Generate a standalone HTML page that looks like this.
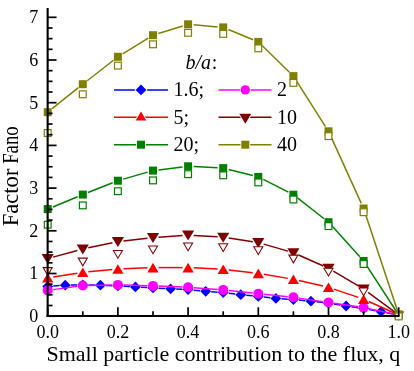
<!DOCTYPE html>
<html><head><meta charset="utf-8"><title>Factor Fano</title>
<style>html,body{margin:0;padding:0;background:#fff;}svg{display:block;}text{font-family:"Liberation Serif",serif;filter:grayscale(1);}</style>
</head><body>
<svg width="414" height="371" viewBox="0 0 414 371">
<rect width="414" height="371" fill="#fff"/>
<line x1="53.28" y1="286.09" x2="59.67" y2="285.61" stroke="#0000ff" stroke-width="1.5"/>
<line x1="70.85" y1="285.10" x2="77.20" y2="285.00" stroke="#0000ff" stroke-width="1.5"/>
<line x1="88.40" y1="285.00" x2="94.75" y2="285.10" stroke="#0000ff" stroke-width="1.5"/>
<line x1="105.95" y1="285.42" x2="112.30" y2="285.68" stroke="#0000ff" stroke-width="1.5"/>
<line x1="123.49" y1="286.22" x2="129.86" y2="286.58" stroke="#0000ff" stroke-width="1.5"/>
<line x1="141.04" y1="287.22" x2="147.41" y2="287.58" stroke="#0000ff" stroke-width="1.5"/>
<line x1="158.59" y1="288.19" x2="164.96" y2="288.51" stroke="#0000ff" stroke-width="1.5"/>
<line x1="176.14" y1="289.06" x2="182.51" y2="289.34" stroke="#0000ff" stroke-width="1.5"/>
<line x1="193.67" y1="290.14" x2="200.08" y2="290.76" stroke="#0000ff" stroke-width="1.5"/>
<line x1="211.23" y1="291.71" x2="217.62" y2="292.19" stroke="#0000ff" stroke-width="1.5"/>
<line x1="228.76" y1="293.27" x2="235.19" y2="294.03" stroke="#0000ff" stroke-width="1.5"/>
<line x1="246.32" y1="295.24" x2="252.73" y2="295.86" stroke="#0000ff" stroke-width="1.5"/>
<line x1="263.86" y1="297.03" x2="270.29" y2="297.77" stroke="#0000ff" stroke-width="1.5"/>
<line x1="281.44" y1="298.75" x2="287.81" y2="299.15" stroke="#0000ff" stroke-width="1.5"/>
<line x1="298.97" y1="300.04" x2="305.38" y2="300.66" stroke="#0000ff" stroke-width="1.5"/>
<line x1="316.51" y1="301.83" x2="322.94" y2="302.57" stroke="#0000ff" stroke-width="1.5"/>
<line x1="334.03" y1="304.08" x2="340.52" y2="305.12" stroke="#0000ff" stroke-width="1.5"/>
<line x1="351.59" y1="306.82" x2="358.06" y2="307.78" stroke="#0000ff" stroke-width="1.5"/>
<line x1="369.11" y1="309.57" x2="375.64" y2="310.73" stroke="#0000ff" stroke-width="1.5"/>
<line x1="386.65" y1="312.73" x2="395.75" y2="314.45" stroke="#0000ff" stroke-width="1.5"/>
<polygon points="42.3,286.5 47.7,281.1 53.1,286.5 47.7,291.9" fill="#0000ff"/>
<polygon points="59.9,285.2 65.2,279.8 70.7,285.2 65.2,290.6" fill="#0000ff"/>
<polygon points="77.4,284.9 82.8,279.5 88.2,284.9 82.8,290.3" fill="#0000ff"/>
<polygon points="95.0,285.2 100.4,279.8 105.8,285.2 100.4,290.6" fill="#0000ff"/>
<polygon points="112.5,285.9 117.9,280.5 123.3,285.9 117.9,291.3" fill="#0000ff"/>
<polygon points="130.0,286.9 135.4,281.5 140.8,286.9 135.4,292.3" fill="#0000ff"/>
<polygon points="147.6,287.9 153.0,282.5 158.4,287.9 153.0,293.3" fill="#0000ff"/>
<polygon points="165.2,288.8 170.6,283.4 176.0,288.8 170.6,294.2" fill="#0000ff"/>
<polygon points="182.7,289.6 188.1,284.2 193.5,289.6 188.1,295.0" fill="#0000ff"/>
<polygon points="200.3,291.3 205.7,285.9 211.1,291.3 205.7,296.7" fill="#0000ff"/>
<polygon points="217.8,292.6 223.2,287.2 228.6,292.6 223.2,298.0" fill="#0000ff"/>
<polygon points="235.3,294.7 240.8,289.3 246.2,294.7 240.8,300.1" fill="#0000ff"/>
<polygon points="252.9,296.4 258.3,291.0 263.7,296.4 258.3,301.8" fill="#0000ff"/>
<polygon points="270.5,298.4 275.9,293.0 281.2,298.4 275.9,303.8" fill="#0000ff"/>
<polygon points="288.0,299.5 293.4,294.1 298.8,299.5 293.4,304.9" fill="#0000ff"/>
<polygon points="305.6,301.2 310.9,295.8 316.3,301.2 310.9,306.6" fill="#0000ff"/>
<polygon points="323.1,303.2 328.5,297.8 333.9,303.2 328.5,308.6" fill="#0000ff"/>
<polygon points="340.7,306.0 346.1,300.6 351.4,306.0 346.1,311.4" fill="#0000ff"/>
<polygon points="358.2,308.6 363.6,303.2 369.0,308.6 363.6,314.0" fill="#0000ff"/>
<polygon points="375.8,311.7 381.1,306.3 386.5,311.7 381.1,317.1" fill="#0000ff"/>
<line x1="53.25" y1="289.63" x2="77.25" y2="286.27" stroke="#ff00ff" stroke-width="1.5"/>
<line x1="88.40" y1="285.40" x2="112.30" y2="285.00" stroke="#ff00ff" stroke-width="1.5"/>
<line x1="123.50" y1="285.06" x2="147.40" y2="285.74" stroke="#ff00ff" stroke-width="1.5"/>
<line x1="158.60" y1="286.11" x2="182.50" y2="286.99" stroke="#ff00ff" stroke-width="1.5"/>
<line x1="193.68" y1="287.63" x2="217.62" y2="289.47" stroke="#ff00ff" stroke-width="1.5"/>
<line x1="228.77" y1="290.50" x2="252.73" y2="293.10" stroke="#ff00ff" stroke-width="1.5"/>
<line x1="263.87" y1="294.27" x2="287.83" y2="296.73" stroke="#ff00ff" stroke-width="1.5"/>
<line x1="298.94" y1="298.12" x2="322.96" y2="301.68" stroke="#ff00ff" stroke-width="1.5"/>
<line x1="334.04" y1="303.31" x2="358.06" y2="306.79" stroke="#ff00ff" stroke-width="1.5"/>
<line x1="369.08" y1="308.76" x2="395.76" y2="314.38" stroke="#ff00ff" stroke-width="1.5"/>
<circle cx="47.7" cy="290.4" r="5.0" fill="#ff00ff"/>
<circle cx="82.8" cy="285.5" r="5.0" fill="#ff00ff"/>
<circle cx="117.9" cy="284.9" r="5.0" fill="#ff00ff"/>
<circle cx="153.0" cy="285.9" r="5.0" fill="#ff00ff"/>
<circle cx="188.1" cy="287.2" r="5.0" fill="#ff00ff"/>
<circle cx="223.2" cy="289.9" r="5.0" fill="#ff00ff"/>
<circle cx="258.3" cy="293.7" r="5.0" fill="#ff00ff"/>
<circle cx="293.4" cy="297.3" r="5.0" fill="#ff00ff"/>
<circle cx="328.5" cy="302.5" r="5.0" fill="#ff00ff"/>
<circle cx="363.6" cy="307.6" r="5.0" fill="#ff00ff"/>
<line x1="53.23" y1="276.93" x2="77.27" y2="273.17" stroke="#ff0000" stroke-width="1.5"/>
<line x1="88.38" y1="271.78" x2="112.32" y2="269.52" stroke="#ff0000" stroke-width="1.5"/>
<line x1="123.50" y1="268.78" x2="147.40" y2="267.82" stroke="#ff0000" stroke-width="1.5"/>
<line x1="158.60" y1="267.60" x2="182.50" y2="267.60" stroke="#ff0000" stroke-width="1.5"/>
<line x1="193.69" y1="267.87" x2="217.61" y2="269.03" stroke="#ff0000" stroke-width="1.5"/>
<line x1="228.76" y1="269.95" x2="252.74" y2="272.75" stroke="#ff0000" stroke-width="1.5"/>
<line x1="263.82" y1="274.33" x2="287.88" y2="278.37" stroke="#ff0000" stroke-width="1.5"/>
<line x1="298.86" y1="280.54" x2="323.04" y2="286.06" stroke="#ff0000" stroke-width="1.5"/>
<line x1="333.80" y1="289.10" x2="358.30" y2="297.40" stroke="#ff0000" stroke-width="1.5"/>
<line x1="368.71" y1="301.50" x2="395.96" y2="313.77" stroke="#ff0000" stroke-width="1.5"/>
<polygon points="42.1,282.6 53.3,282.6 47.7,273.0" fill="#ff0000"/>
<polygon points="77.2,277.1 88.4,277.1 82.8,267.5" fill="#ff0000"/>
<polygon points="112.3,273.8 123.5,273.8 117.9,264.2" fill="#ff0000"/>
<polygon points="147.4,272.4 158.6,272.4 153.0,262.8" fill="#ff0000"/>
<polygon points="182.5,272.4 193.7,272.4 188.1,262.8" fill="#ff0000"/>
<polygon points="217.6,274.1 228.8,274.1 223.2,264.5" fill="#ff0000"/>
<polygon points="252.7,278.2 263.9,278.2 258.3,268.6" fill="#ff0000"/>
<polygon points="287.8,284.1 299.0,284.1 293.4,274.5" fill="#ff0000"/>
<polygon points="322.9,292.1 334.1,292.1 328.5,282.5" fill="#ff0000"/>
<polygon points="358.0,304.0 369.2,304.0 363.6,294.4" fill="#ff0000"/>
<line x1="53.10" y1="257.12" x2="77.40" y2="250.48" stroke="#800000" stroke-width="1.5"/>
<line x1="88.28" y1="247.84" x2="112.42" y2="242.76" stroke="#800000" stroke-width="1.5"/>
<line x1="123.46" y1="240.97" x2="147.44" y2="238.23" stroke="#800000" stroke-width="1.5"/>
<line x1="158.59" y1="237.20" x2="182.51" y2="235.50" stroke="#800000" stroke-width="1.5"/>
<line x1="193.69" y1="235.43" x2="217.61" y2="236.87" stroke="#800000" stroke-width="1.5"/>
<line x1="228.73" y1="238.05" x2="252.77" y2="241.75" stroke="#800000" stroke-width="1.5"/>
<line x1="263.68" y1="244.15" x2="288.02" y2="251.15" stroke="#800000" stroke-width="1.5"/>
<line x1="298.52" y1="254.97" x2="323.38" y2="266.03" stroke="#800000" stroke-width="1.5"/>
<line x1="333.32" y1="271.14" x2="358.78" y2="286.16" stroke="#800000" stroke-width="1.5"/>
<line x1="368.10" y1="292.33" x2="396.29" y2="313.21" stroke="#800000" stroke-width="1.5"/>
<polygon points="41.6,254.1 53.8,254.1 47.7,264.1" fill="#800000"/>
<polygon points="76.7,244.5 88.9,244.5 82.8,254.5" fill="#800000"/>
<polygon points="111.8,237.1 124.0,237.1 117.9,247.1" fill="#800000"/>
<polygon points="146.9,233.1 159.1,233.1 153.0,243.1" fill="#800000"/>
<polygon points="182.0,230.6 194.2,230.6 188.1,240.6" fill="#800000"/>
<polygon points="217.1,232.7 229.3,232.7 223.2,242.7" fill="#800000"/>
<polygon points="252.2,238.1 264.4,238.1 258.3,248.1" fill="#800000"/>
<polygon points="287.3,248.2 299.5,248.2 293.4,258.2" fill="#800000"/>
<polygon points="322.4,263.8 334.6,263.8 328.5,273.8" fill="#800000"/>
<polygon points="357.5,284.5 369.7,284.5 363.6,294.5" fill="#800000"/>
<polygon points="42.4,267.0 53.0,267.0 47.7,276.0" fill="#fff" stroke="#800000" stroke-width="1.2" transform="translate(47.7,271.5) scale(0.86) translate(-47.7,-271.5)"/>
<polygon points="77.5,257.5 88.1,257.5 82.8,266.5" fill="#fff" stroke="#800000" stroke-width="1.2" transform="translate(82.8,262.0) scale(0.86) translate(-82.8,-262.0)"/>
<polygon points="112.6,249.9 123.2,249.9 117.9,258.9" fill="#fff" stroke="#800000" stroke-width="1.2" transform="translate(117.9,254.4) scale(0.86) translate(-117.9,-254.4)"/>
<polygon points="147.7,245.3 158.3,245.3 153.0,254.3" fill="#fff" stroke="#800000" stroke-width="1.2" transform="translate(153.0,249.8) scale(0.86) translate(-153.0,-249.8)"/>
<polygon points="182.8,242.3 193.4,242.3 188.1,251.3" fill="#fff" stroke="#800000" stroke-width="1.2" transform="translate(188.1,246.8) scale(0.86) translate(-188.1,-246.8)"/>
<polygon points="217.9,243.1 228.5,243.1 223.2,252.1" fill="#fff" stroke="#800000" stroke-width="1.2" transform="translate(223.2,247.6) scale(0.86) translate(-223.2,-247.6)"/>
<polygon points="253.0,246.1 263.6,246.1 258.3,255.1" fill="#fff" stroke="#800000" stroke-width="1.2" transform="translate(258.3,250.6) scale(0.86) translate(-258.3,-250.6)"/>
<polygon points="288.1,254.5 298.7,254.5 293.4,263.5" fill="#fff" stroke="#800000" stroke-width="1.2" transform="translate(293.4,259.0) scale(0.86) translate(-293.4,-259.0)"/>
<polygon points="323.2,267.6 333.8,267.6 328.5,276.6" fill="#fff" stroke="#800000" stroke-width="1.2" transform="translate(328.5,272.1) scale(0.86) translate(-328.5,-272.1)"/>
<polygon points="358.3,287.3 368.9,287.3 363.6,296.3" fill="#fff" stroke="#800000" stroke-width="1.2" transform="translate(363.6,291.8) scale(0.86) translate(-363.6,-291.8)"/>
<polygon points="393.4,311.3 404.0,311.3 398.7,320.3" fill="#fff" stroke="#800000" stroke-width="1.2" transform="translate(398.7,315.8) scale(0.86) translate(-398.7,-315.8)"/>
<line x1="52.88" y1="206.96" x2="77.62" y2="196.74" stroke="#008000" stroke-width="1.5"/>
<line x1="88.01" y1="192.54" x2="112.69" y2="182.76" stroke="#008000" stroke-width="1.5"/>
<line x1="123.28" y1="179.15" x2="147.62" y2="172.15" stroke="#008000" stroke-width="1.5"/>
<line x1="158.56" y1="169.92" x2="182.54" y2="166.98" stroke="#008000" stroke-width="1.5"/>
<line x1="193.69" y1="166.59" x2="217.61" y2="167.81" stroke="#008000" stroke-width="1.5"/>
<line x1="228.63" y1="169.46" x2="252.87" y2="175.54" stroke="#008000" stroke-width="1.5"/>
<line x1="263.29" y1="179.43" x2="288.41" y2="192.17" stroke="#008000" stroke-width="1.5"/>
<line x1="297.81" y1="198.15" x2="324.09" y2="218.75" stroke="#008000" stroke-width="1.5"/>
<line x1="332.26" y1="226.35" x2="359.84" y2="256.85" stroke="#008000" stroke-width="1.5"/>
<line x1="366.65" y1="265.70" x2="397.07" y2="312.48" stroke="#008000" stroke-width="1.5"/>
<rect x="43.7" y="205.1" width="8.0" height="8.0" fill="#008000"/>
<rect x="78.8" y="190.6" width="8.0" height="8.0" fill="#008000"/>
<rect x="113.9" y="176.7" width="8.0" height="8.0" fill="#008000"/>
<rect x="149.0" y="166.6" width="8.0" height="8.0" fill="#008000"/>
<rect x="184.1" y="162.3" width="8.0" height="8.0" fill="#008000"/>
<rect x="219.2" y="164.1" width="8.0" height="8.0" fill="#008000"/>
<rect x="254.3" y="172.9" width="8.0" height="8.0" fill="#008000"/>
<rect x="289.4" y="190.7" width="8.0" height="8.0" fill="#008000"/>
<rect x="324.5" y="218.2" width="8.0" height="8.0" fill="#008000"/>
<rect x="359.6" y="257.0" width="8.0" height="8.0" fill="#008000"/>
<rect x="44.3" y="221.3" width="6.8" height="6.8" fill="#fff" stroke="#008000" stroke-width="1.2"/>
<rect x="79.4" y="202.0" width="6.8" height="6.8" fill="#fff" stroke="#008000" stroke-width="1.2"/>
<rect x="114.5" y="187.8" width="6.8" height="6.8" fill="#fff" stroke="#008000" stroke-width="1.2"/>
<rect x="149.6" y="177.0" width="6.8" height="6.8" fill="#fff" stroke="#008000" stroke-width="1.2"/>
<rect x="184.7" y="170.8" width="6.8" height="6.8" fill="#fff" stroke="#008000" stroke-width="1.2"/>
<rect x="219.8" y="171.9" width="6.8" height="6.8" fill="#fff" stroke="#008000" stroke-width="1.2"/>
<rect x="254.9" y="179.0" width="6.8" height="6.8" fill="#fff" stroke="#008000" stroke-width="1.2"/>
<rect x="290.0" y="196.1" width="6.8" height="6.8" fill="#fff" stroke="#008000" stroke-width="1.2"/>
<rect x="325.1" y="222.7" width="6.8" height="6.8" fill="#fff" stroke="#008000" stroke-width="1.2"/>
<rect x="360.2" y="260.6" width="6.8" height="6.8" fill="#fff" stroke="#008000" stroke-width="1.2"/>
<rect x="395.3" y="311.6" width="6.8" height="6.8" fill="#fff" stroke="#008000" stroke-width="1.2"/>
<line x1="52.08" y1="108.71" x2="78.42" y2="87.69" stroke="#808000" stroke-width="1.5"/>
<line x1="87.21" y1="80.75" x2="113.49" y2="60.25" stroke="#808000" stroke-width="1.5"/>
<line x1="122.67" y1="53.87" x2="148.23" y2="38.13" stroke="#808000" stroke-width="1.5"/>
<line x1="158.35" y1="33.54" x2="182.75" y2="25.96" stroke="#808000" stroke-width="1.5"/>
<line x1="193.68" y1="24.79" x2="217.62" y2="26.91" stroke="#808000" stroke-width="1.5"/>
<line x1="228.38" y1="29.54" x2="253.12" y2="39.76" stroke="#808000" stroke-width="1.5"/>
<line x1="262.31" y1="45.81" x2="289.39" y2="72.19" stroke="#808000" stroke-width="1.5"/>
<line x1="296.40" y1="80.83" x2="325.50" y2="126.57" stroke="#808000" stroke-width="1.5"/>
<line x1="330.82" y1="136.40" x2="361.28" y2="203.40" stroke="#808000" stroke-width="1.5"/>
<line x1="365.36" y1="213.82" x2="397.76" y2="311.45" stroke="#808000" stroke-width="1.5"/>
<rect x="43.7" y="108.2" width="8.0" height="8.0" fill="#808000"/>
<rect x="78.8" y="80.2" width="8.0" height="8.0" fill="#808000"/>
<rect x="113.9" y="52.8" width="8.0" height="8.0" fill="#808000"/>
<rect x="149.0" y="31.2" width="8.0" height="8.0" fill="#808000"/>
<rect x="184.1" y="20.3" width="8.0" height="8.0" fill="#808000"/>
<rect x="219.2" y="23.4" width="8.0" height="8.0" fill="#808000"/>
<rect x="254.3" y="37.9" width="8.0" height="8.0" fill="#808000"/>
<rect x="289.4" y="72.1" width="8.0" height="8.0" fill="#808000"/>
<rect x="324.5" y="127.3" width="8.0" height="8.0" fill="#808000"/>
<rect x="359.6" y="204.5" width="8.0" height="8.0" fill="#808000"/>
<rect x="394.7" y="310.3" width="8.0" height="8.0" fill="#808000"/>
<rect x="44.3" y="129.6" width="6.8" height="6.8" fill="#fff" stroke="#808000" stroke-width="1.2"/>
<rect x="79.4" y="90.9" width="6.8" height="6.8" fill="#fff" stroke="#808000" stroke-width="1.2"/>
<rect x="114.5" y="62.2" width="6.8" height="6.8" fill="#fff" stroke="#808000" stroke-width="1.2"/>
<rect x="149.6" y="40.9" width="6.8" height="6.8" fill="#fff" stroke="#808000" stroke-width="1.2"/>
<rect x="184.7" y="29.4" width="6.8" height="6.8" fill="#fff" stroke="#808000" stroke-width="1.2"/>
<rect x="219.8" y="30.5" width="6.8" height="6.8" fill="#fff" stroke="#808000" stroke-width="1.2"/>
<rect x="254.9" y="44.9" width="6.8" height="6.8" fill="#fff" stroke="#808000" stroke-width="1.2"/>
<rect x="290.0" y="79.5" width="6.8" height="6.8" fill="#fff" stroke="#808000" stroke-width="1.2"/>
<rect x="325.1" y="132.7" width="6.8" height="6.8" fill="#fff" stroke="#808000" stroke-width="1.2"/>
<rect x="360.2" y="208.8" width="6.8" height="6.8" fill="#fff" stroke="#808000" stroke-width="1.2"/>
<rect x="395.3" y="313.0" width="6.8" height="6.8" fill="#fff" stroke="#808000" stroke-width="1.2"/>
<g stroke="#000" fill="none">
<line x1="47.65" y1="8" x2="47.65" y2="317.0" stroke-width="2.1"/>
<line x1="46.6" y1="315.95" x2="399.5" y2="315.95" stroke-width="2.1"/>
<line x1="47.65" y1="316.20" x2="56.55" y2="316.20" stroke-width="1.7"/>
<line x1="47.65" y1="305.52" x2="52.55" y2="305.52" stroke-width="1.7"/>
<line x1="47.65" y1="294.85" x2="52.55" y2="294.85" stroke-width="1.7"/>
<line x1="47.65" y1="284.17" x2="52.55" y2="284.17" stroke-width="1.7"/>
<line x1="47.65" y1="273.50" x2="56.55" y2="273.50" stroke-width="1.7"/>
<line x1="47.65" y1="262.82" x2="52.55" y2="262.82" stroke-width="1.7"/>
<line x1="47.65" y1="252.15" x2="52.55" y2="252.15" stroke-width="1.7"/>
<line x1="47.65" y1="241.47" x2="52.55" y2="241.47" stroke-width="1.7"/>
<line x1="47.65" y1="230.80" x2="56.55" y2="230.80" stroke-width="1.7"/>
<line x1="47.65" y1="220.12" x2="52.55" y2="220.12" stroke-width="1.7"/>
<line x1="47.65" y1="209.45" x2="52.55" y2="209.45" stroke-width="1.7"/>
<line x1="47.65" y1="198.77" x2="52.55" y2="198.77" stroke-width="1.7"/>
<line x1="47.65" y1="188.10" x2="56.55" y2="188.10" stroke-width="1.7"/>
<line x1="47.65" y1="177.42" x2="52.55" y2="177.42" stroke-width="1.7"/>
<line x1="47.65" y1="166.75" x2="52.55" y2="166.75" stroke-width="1.7"/>
<line x1="47.65" y1="156.07" x2="52.55" y2="156.07" stroke-width="1.7"/>
<line x1="47.65" y1="145.40" x2="56.55" y2="145.40" stroke-width="1.7"/>
<line x1="47.65" y1="134.72" x2="52.55" y2="134.72" stroke-width="1.7"/>
<line x1="47.65" y1="124.05" x2="52.55" y2="124.05" stroke-width="1.7"/>
<line x1="47.65" y1="113.37" x2="52.55" y2="113.37" stroke-width="1.7"/>
<line x1="47.65" y1="102.70" x2="56.55" y2="102.70" stroke-width="1.7"/>
<line x1="47.65" y1="92.02" x2="52.55" y2="92.02" stroke-width="1.7"/>
<line x1="47.65" y1="81.35" x2="52.55" y2="81.35" stroke-width="1.7"/>
<line x1="47.65" y1="70.67" x2="52.55" y2="70.67" stroke-width="1.7"/>
<line x1="47.65" y1="60.00" x2="56.55" y2="60.00" stroke-width="1.7"/>
<line x1="47.65" y1="49.32" x2="52.55" y2="49.32" stroke-width="1.7"/>
<line x1="47.65" y1="38.65" x2="52.55" y2="38.65" stroke-width="1.7"/>
<line x1="47.65" y1="27.97" x2="52.55" y2="27.97" stroke-width="1.7"/>
<line x1="47.65" y1="17.30" x2="56.55" y2="17.30" stroke-width="1.7"/>
<line x1="47.70" y1="316.2" x2="47.70" y2="307.29999999999995" stroke-width="1.7"/>
<line x1="82.80" y1="316.2" x2="82.80" y2="311.29999999999995" stroke-width="1.7"/>
<line x1="117.90" y1="316.2" x2="117.90" y2="307.29999999999995" stroke-width="1.7"/>
<line x1="153.00" y1="316.2" x2="153.00" y2="311.29999999999995" stroke-width="1.7"/>
<line x1="188.10" y1="316.2" x2="188.10" y2="307.29999999999995" stroke-width="1.7"/>
<line x1="223.20" y1="316.2" x2="223.20" y2="311.29999999999995" stroke-width="1.7"/>
<line x1="258.30" y1="316.2" x2="258.30" y2="307.29999999999995" stroke-width="1.7"/>
<line x1="293.40" y1="316.2" x2="293.40" y2="311.29999999999995" stroke-width="1.7"/>
<line x1="328.50" y1="316.2" x2="328.50" y2="307.29999999999995" stroke-width="1.7"/>
<line x1="363.60" y1="316.2" x2="363.60" y2="311.29999999999995" stroke-width="1.7"/>
<line x1="398.70" y1="316.2" x2="398.70" y2="307.29999999999995" stroke-width="1.7"/>
</g>
<g font-family="Liberation Serif, serif" font-size="18" fill="#000">
<text x="38.3" y="322.0" text-anchor="end">0</text>
<text x="38.3" y="279.3" text-anchor="end">1</text>
<text x="38.3" y="236.6" text-anchor="end">2</text>
<text x="38.3" y="193.9" text-anchor="end">3</text>
<text x="38.3" y="151.2" text-anchor="end">4</text>
<text x="38.3" y="108.5" text-anchor="end">5</text>
<text x="38.3" y="65.8" text-anchor="end">6</text>
<text x="38.3" y="23.1" text-anchor="end">7</text>
<text x="47.7" y="338.2" text-anchor="middle">0.0</text>
<text x="117.9" y="338.2" text-anchor="middle">0.2</text>
<text x="188.1" y="338.2" text-anchor="middle">0.4</text>
<text x="258.3" y="338.2" text-anchor="middle">0.6</text>
<text x="328.5" y="338.2" text-anchor="middle">0.8</text>
<text x="398.7" y="338.2" text-anchor="middle">1.0</text>
</g>
<text x="46.5" y="360.6" font-family="Liberation Serif, serif" font-size="22" fill="#000">Small particle contribution to the flux, q</text>
<text transform="translate(17.9,226.2) rotate(-90)" font-family="Liberation Serif, serif" font-size="22.8" fill="#000" textLength="57.6" lengthAdjust="spacingAndGlyphs">Factor</text>
<text transform="translate(17.9,163.8) rotate(-90)" font-family="Liberation Serif, serif" font-size="22.8" fill="#000" textLength="37.5" lengthAdjust="spacingAndGlyphs">Fano</text>
<g font-family="Liberation Serif, serif" font-size="20" fill="#000">
<text x="185.5" y="69" font-style="italic">b/a</text>
<text x="211.8" y="69">:</text>
<line x1="114" y1="89.9" x2="168" y2="89.9" stroke="#0000ff" stroke-width="1.5"/>
<line x1="114" y1="117.3" x2="168" y2="117.3" stroke="#ff0000" stroke-width="1.5"/>
<line x1="114" y1="144.7" x2="168" y2="144.7" stroke="#008000" stroke-width="1.5"/>
<line x1="218.5" y1="89.9" x2="271.5" y2="89.9" stroke="#ff00ff" stroke-width="1.5"/>
<line x1="218.5" y1="117.3" x2="271.5" y2="117.3" stroke="#800000" stroke-width="1.5"/>
<line x1="218.5" y1="144.7" x2="271.5" y2="144.7" stroke="#808000" stroke-width="1.5"/>
<polygon points="135.6,89.9 141.0,84.5 146.4,89.9 141.0,95.3" fill="#0000ff" stroke="#fff" stroke-width="1.7" paint-order="stroke"/>
<polygon points="135.7,120.4 146.3,120.4 141.0,111.4" fill="#ff0000" stroke="#fff" stroke-width="1.7" paint-order="stroke"/>
<rect x="137.0" y="140.7" width="8.0" height="8.0" fill="#008000" stroke="#fff" stroke-width="1.7" paint-order="stroke"/>
<circle cx="245.3" cy="89.9" r="4.7" fill="#ff00ff" stroke="#fff" stroke-width="1.7" paint-order="stroke"/>
<polygon points="239.3,113.8 251.3,113.8 245.3,123.8" fill="#800000" stroke="#fff" stroke-width="1.7" paint-order="stroke"/>
<rect x="241.3" y="140.7" width="8.0" height="8.0" fill="#808000" stroke="#fff" stroke-width="1.7" paint-order="stroke"/>
<text x="173.6" y="96">1.6;</text>
<text x="173.6" y="123.5">5;</text>
<text x="173.6" y="150.7">20;</text>
<text x="277" y="96">2</text>
<text x="277" y="123.5">10</text>
<text x="277" y="150.7">40</text>
</g>
</svg>
</body></html>
